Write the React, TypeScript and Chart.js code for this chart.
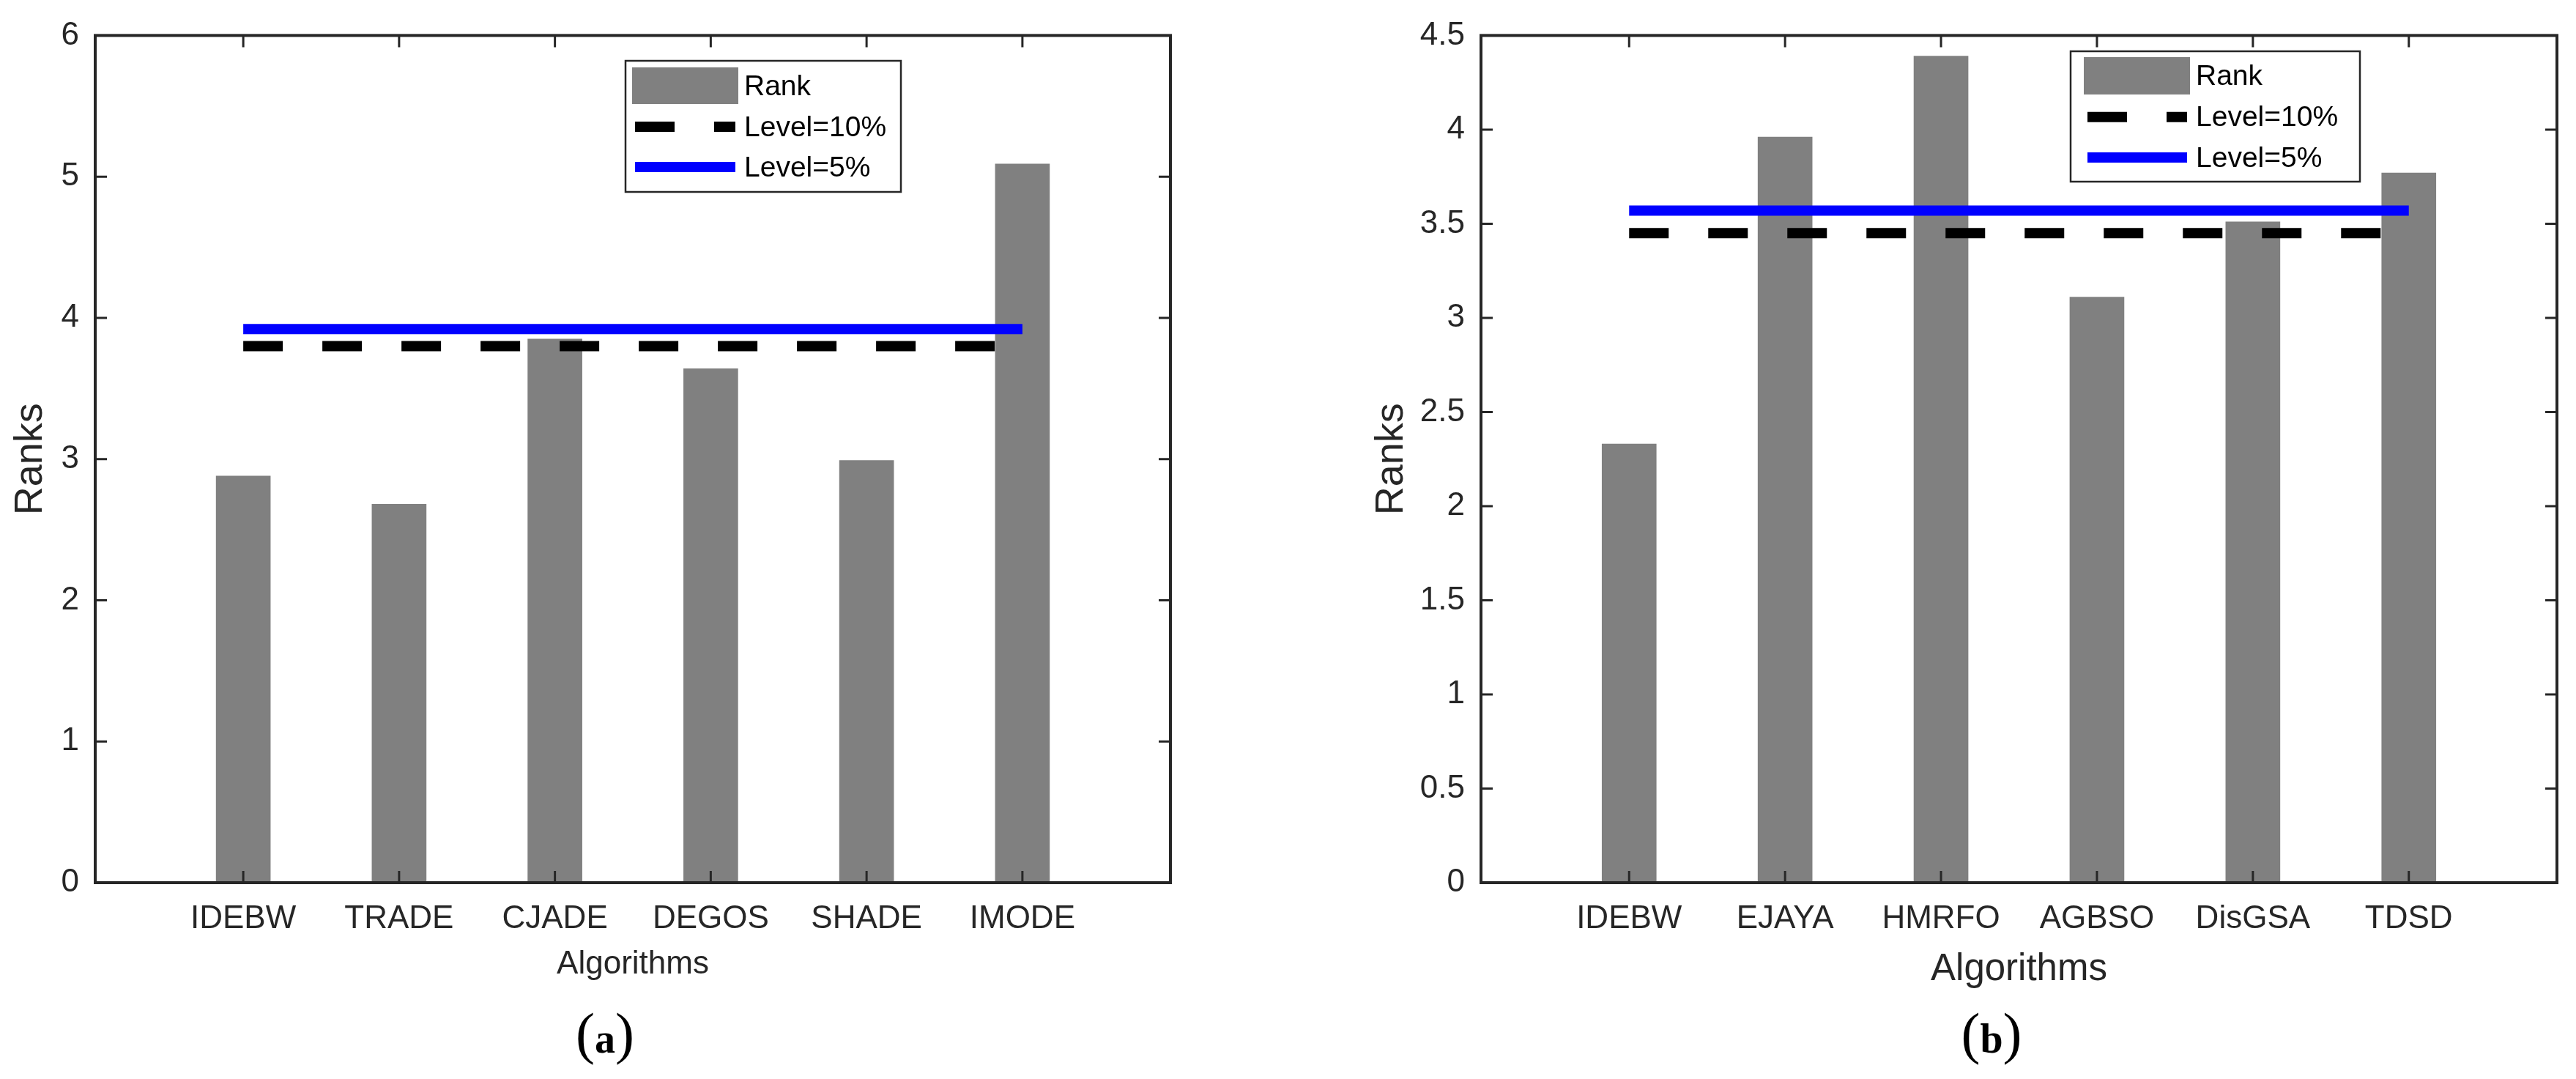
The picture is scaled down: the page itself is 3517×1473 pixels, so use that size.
import React, { useEffect, useRef } from "react";
import { Chart, registerables } from "chart.js";

Chart.register(...registerables);

// ---------------- data ----------------
const categoriesA = ["IDEBW", "TRADE", "CJADE", "DEGOS", "SHADE", "IMODE"];
const ranksA = [2.88, 2.68, 3.85, 3.64, 2.99, 5.09];
const level10A = 3.8;
const level5A = 3.92;
const yTicksA = [0, 1, 2, 3, 4, 5, 6];

const categoriesB = ["IDEBW", "EJAYA", "HMRFO", "AGBSO", "DisGSA", "TDSD"];
const ranksB = [2.33, 3.96, 4.39, 3.11, 3.51, 3.77];
const level10B = 3.45;
const level5B = 3.57;
const yTicksB = [0, 0.5, 1, 1.5, 2, 2.5, 3, 3.5, 4, 4.5];

const seriesLabels = ["Rank", "Level=10%", "Level=5%"];
const xTitle = "Algorithms";
const yTitle = "Ranks";

// ---------------- style / layout ----------------
const W = 3517;
const H = 1473;
const SANS = "'Liberation Sans', Arial, Helvetica, sans-serif";
const SERIF = "'Liberation Serif', 'Times New Roman', serif";
const AXIS_COLOR = "#262626";
const BAR_COLOR = "#808080";
const TICK_LEN = 16;

type LegendLayout = {
  x: number; y: number; w: number; h: number;
  patchX: number; patchY: number; patchW: number; patchH: number;
  lineX0: number; lineX1: number; rowY: number[]; textX: number; textSize: number;
};

type PanelLayout = {
  canvasLeft: number; canvasWidth: number;
  plotLeft: number; plotRight: number; plotTop: number; plotBottom: number;
  xMin: number; xMax: number;
  tickSize: number;
  yTitleSize: number; yTitleCenterX: number;
  xTitleSize: number; xTitleMiddleY: number;
  legend: LegendLayout;
  caption: string; captionX: number; captionBaseline: number;
  parenSize: number; letterSize: number;
};

const layoutA: PanelLayout = {
  canvasLeft: 0, canvasWidth: 1720,
  plotLeft: 130, plotRight: 1598, plotTop: 46, plotBottom: 1205,
  xMin: 0.05, xMax: 6.95,
  tickSize: 44,
  yTitleSize: 54, yTitleCenterX: 42,
  xTitleSize: 44, xTitleMiddleY: 1317,
  legend: {
    x: 854, y: 83, w: 376, h: 179,
    patchX: 863, patchY: 92, patchW: 145, patchH: 50,
    lineX0: 867, lineX1: 1004, rowY: [117, 173, 228], textX: 1016, textSize: 39,
  },
  caption: "a", captionX: 826, captionBaseline: 1437, parenSize: 78, letterSize: 56,
};

const layoutB: PanelLayout = {
  canvasLeft: 1720, canvasWidth: 1797,
  plotLeft: 2022, plotRight: 3491, plotTop: 46, plotBottom: 1205,
  xMin: 0.05, xMax: 6.95,
  tickSize: 44,
  yTitleSize: 54, yTitleCenterX: 1900,
  xTitleSize: 51, xTitleMiddleY: 1324,
  legend: {
    x: 2827, y: 70, w: 395, h: 178,
    patchX: 2845, patchY: 78, patchW: 145, patchH: 51,
    lineX0: 2850, lineX1: 2986, rowY: [103.5, 159.7, 215], textX: 2998, textSize: 39,
  },
  caption: "b", captionX: 2719, captionBaseline: 1437, parenSize: 78, letterSize: 56,
};

function makeConfig(
  L: PanelLayout,
  categories: string[],
  ranks: number[],
  level10: number,
  level5: number,
  yTicks: number[]
): any {
  const off = L.canvasLeft;
  const n = categories.length;

  const framePlugin = {
    id: "matlabFrame",
    afterDatasetsDraw(chart: any) {
      const { ctx, chartArea: a, scales } = chart;
      ctx.save();
      ctx.strokeStyle = AXIS_COLOR;
      ctx.lineWidth = 3;
      ctx.beginPath();
      for (const t of scales.x.ticks) {
        const px = scales.x.getPixelForValue(t.value);
        ctx.moveTo(px, a.bottom);
        ctx.lineTo(px, a.bottom - TICK_LEN);
        ctx.moveTo(px, a.top);
        ctx.lineTo(px, a.top + TICK_LEN);
      }
      for (const t of scales.y.ticks) {
        const py = scales.y.getPixelForValue(t.value);
        ctx.moveTo(a.left, py);
        ctx.lineTo(a.left + TICK_LEN, py);
        ctx.moveTo(a.right, py);
        ctx.lineTo(a.right - TICK_LEN, py);
      }
      ctx.stroke();
      ctx.lineWidth = 4;
      ctx.strokeRect(a.left, a.top, a.right - a.left, a.bottom - a.top);
      ctx.restore();
    },
  };

  const legendPlugin = {
    id: "matlabLegend",
    afterDraw(chart: any) {
      const { ctx } = chart;
      const lg = L.legend;
      const ds = chart.data.datasets;
      ctx.save();
      ctx.fillStyle = "#ffffff";
      ctx.fillRect(lg.x - off, lg.y, lg.w, lg.h);
      ctx.strokeStyle = AXIS_COLOR;
      ctx.lineWidth = 2.5;
      ctx.strokeRect(lg.x - off, lg.y, lg.w, lg.h);
      ctx.fillStyle = ds[0].backgroundColor;
      ctx.fillRect(lg.patchX - off, lg.patchY, lg.patchW, lg.patchH);
      for (let i = 1; i < ds.length; i++) {
        ctx.beginPath();
        ctx.strokeStyle = ds[i].borderColor;
        ctx.lineWidth = ds[i].borderWidth;
        ctx.lineCap = "butt";
        ctx.setLineDash(ds[i].borderDash || []);
        ctx.moveTo(lg.lineX0 - off, lg.rowY[i]);
        ctx.lineTo(lg.lineX1 - off, lg.rowY[i]);
        ctx.stroke();
      }
      ctx.setLineDash([]);
      ctx.fillStyle = "#000000";
      ctx.font = `${lg.textSize}px ${SANS}`;
      ctx.textAlign = "left";
      ctx.textBaseline = "middle";
      for (let i = 0; i < ds.length; i++) {
        ctx.fillText(ds[i].label, lg.textX - off, lg.rowY[i] + 2);
      }
      ctx.restore();
    },
  };

  const captionPlugin = {
    id: "caption",
    afterDraw(chart: any) {
      const { ctx } = chart;
      ctx.save();
      ctx.fillStyle = "#000000";
      ctx.textBaseline = "alphabetic";
      ctx.textAlign = "left";
      const parenFont = `${L.parenSize}px ${SERIF}`;
      const letterFont = `bold ${L.letterSize}px ${SERIF}`;
      ctx.font = parenFont;
      const wp = ctx.measureText("(").width;
      const wq = ctx.measureText(")").width;
      ctx.font = letterFont;
      const wa = ctx.measureText(L.caption).width;
      let x = L.captionX - off - (wp + wa + wq) / 2;
      ctx.font = parenFont;
      ctx.fillText("(", x, L.captionBaseline);
      x += wp;
      ctx.font = letterFont;
      ctx.fillText(L.caption, x, L.captionBaseline);
      x += wa;
      ctx.font = parenFont;
      ctx.fillText(")", x, L.captionBaseline);
      ctx.restore();
    },
  };

  const yTitleLine = L.yTitleSize * 1.2;
  const xTitleLine = L.xTitleSize * 1.2;

  return {
    type: "bar",
    data: {
      datasets: [
        {
          type: "bar",
          label: seriesLabels[0],
          data: ranks.map((v, i) => ({ x: i + 1, y: v })),
          backgroundColor: BAR_COLOR,
          borderWidth: 0,
          barThickness: 74,
          order: 2,
        },
        {
          type: "line",
          label: seriesLabels[1],
          data: [
            { x: 1, y: level10 },
            { x: n, y: level10 },
          ],
          borderColor: "#000000",
          borderWidth: 14,
          borderDash: [54, 54],
          borderCapStyle: "butt",
          pointRadius: 0,
          fill: false,
          tension: 0,
          order: 1,
        },
        {
          type: "line",
          label: seriesLabels[2],
          data: [
            { x: 1, y: level5 },
            { x: n, y: level5 },
          ],
          borderColor: "#0000ff",
          borderWidth: 14,
          borderCapStyle: "butt",
          pointRadius: 0,
          fill: false,
          tension: 0,
          order: 0,
        },
      ],
    },
    options: {
      animation: false,
      responsive: false,
      maintainAspectRatio: false,
      devicePixelRatio: 1,
      events: [],
      layout: {
        padding: {
          left: 0,
          top: L.plotTop,
          right: L.canvasLeft + L.canvasWidth - L.plotRight,
          bottom: 0,
        },
      },
      plugins: {
        legend: { display: false },
        tooltip: { enabled: false },
        title: { display: false },
      },
      scales: {
        x: {
          type: "linear",
          position: "bottom",
          offset: false,
          min: L.xMin,
          max: L.xMax,
          afterBuildTicks: (s: any) => {
            s.ticks = categories.map((_, i) => ({ value: i + 1 }));
          },
          afterFit: (s: any) => {
            s.height = H - L.plotBottom;
          },
          ticks: {
            autoSkip: false,
            maxRotation: 0,
            minRotation: 0,
            padding: 23,
            color: AXIS_COLOR,
            font: { family: SANS, size: L.tickSize, lineHeight: 1.2 },
            callback: (v: number) => categories[Math.round(v) - 1] ?? "",
          },
          grid: { display: false, drawTicks: false, offset: false },
          border: { display: false },
          title: {
            display: true,
            text: xTitle,
            color: AXIS_COLOR,
            font: { family: SANS, size: L.xTitleSize, lineHeight: 1.2 },
            padding: { top: 0, bottom: H - L.xTitleMiddleY - xTitleLine / 2 },
          },
        },
        y: {
          type: "linear",
          position: "left",
          min: yTicks[0],
          max: yTicks[yTicks.length - 1],
          afterBuildTicks: (s: any) => {
            s.ticks = yTicks.map((v) => ({ value: v }));
          },
          afterFit: (s: any) => {
            s.width = L.plotLeft - L.canvasLeft;
          },
          ticks: {
            padding: 22,
            color: AXIS_COLOR,
            font: { family: SANS, size: L.tickSize, lineHeight: 1.2 },
            callback: (v: number) => String(v),
          },
          grid: { display: false, drawTicks: false },
          border: { display: false },
          title: {
            display: true,
            text: yTitle,
            color: AXIS_COLOR,
            font: { family: SANS, size: L.yTitleSize, lineHeight: 1.2 },
            padding: { top: L.yTitleCenterX - L.canvasLeft - yTitleLine / 2, bottom: 0 },
          },
        },
      },
    },
    plugins: [framePlugin, legendPlugin, captionPlugin],
  };
}

function Panel(props: {
  layout: PanelLayout;
  categories: string[];
  ranks: number[];
  level10: number;
  level5: number;
  yTicks: number[];
}) {
  const ref = useRef<HTMLCanvasElement | null>(null);
  const { layout, categories, ranks, level10, level5, yTicks } = props;
  useEffect(() => {
    const canvas = ref.current;
    if (!canvas) return;
    const chart = new Chart(canvas, makeConfig(layout, categories, ranks, level10, level5, yTicks));
    return () => chart.destroy();
  }, []);
  return (
    <canvas
      ref={ref}
      width={layout.canvasWidth}
      height={H}
      style={{
        position: "absolute",
        left: layout.canvasLeft,
        top: 0,
        width: layout.canvasWidth,
        height: H,
        display: "block",
      }}
    />
  );
}

export default function App() {
  return (
    <div
      style={{
        position: "fixed",
        left: 0,
        top: 0,
        width: W,
        height: H,
        background: "#ffffff",
        overflow: "hidden",
      }}
    >
      <Panel layout={layoutA} categories={categoriesA} ranks={ranksA} level10={level10A} level5={level5A} yTicks={yTicksA} />
      <Panel layout={layoutB} categories={categoriesB} ranks={ranksB} level10={level10B} level5={level5B} yTicks={yTicksB} />
    </div>
  );
}
